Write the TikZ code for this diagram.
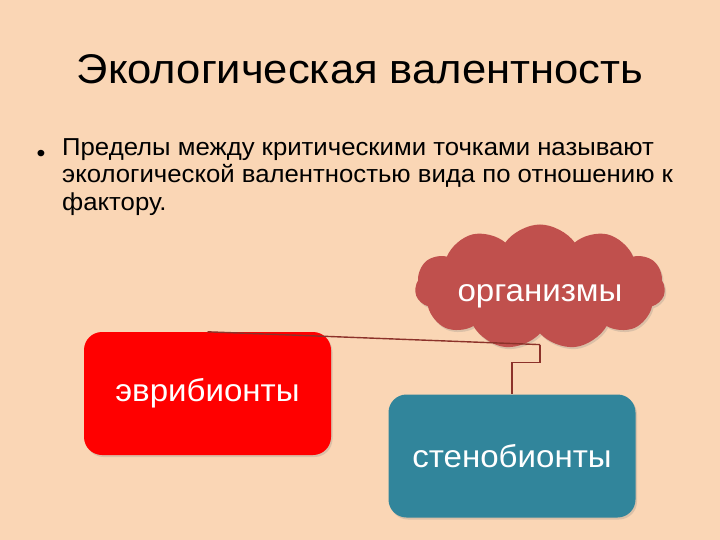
\documentclass[tikz,border=0pt]{standalone}
\usepackage{fontspec}
\setmainfont[FakeStretch=1.05]{Liberation Sans}
\usetikzlibrary{shapes.symbols,positioning,shadows}
\definecolor{slidebg}{RGB}{250,214,181}
\definecolor{cloudred}{RGB}{192,80,77}
\definecolor{boxteal}{RGB}{49,133,155}
\definecolor{linkred}{RGB}{140,50,42}

\begin{document}
\begin{tikzpicture}[
    x=1pt, y=-1pt,
    group/.style={rectangle, rounded corners=18pt, minimum width=247pt, minimum height=123pt, text=white, font=\fontsize{31.5}{36}\selectfont, drop shadow={opacity=0.25, shadow xshift=1.5pt, shadow yshift=-2pt}},
    puff/.style={cloud, cloud puffs=11, cloud puff arc=110, aspect=2, inner sep=0pt, minimum width=250pt, minimum height=125pt, fill=cloudred, text=white, font=\fontsize{31.5}{36}\selectfont, drop shadow={opacity=0.25, shadow xshift=1.5pt, shadow yshift=-2pt}},
    link/.style={draw=linkred, line width=1.4pt}
  ]
    \fill[slidebg] (0,0) rectangle (720,540);
    \useasboundingbox (0,0) rectangle (720,540);

    \node [font=\fontsize{41.5}{46}\selectfont] (title) at (360,69) {Экологическая валентность};
    \node [font=\fontsize{24}{28}\selectfont] (dot) at (41,156) {\textbullet};
    \node [anchor=north west, inner sep=0pt, align=left, font=\fontsize{24.5}{27.5}\selectfont] (body) at (62,138)
      {Пределы между критическими точками называют\\
       экологической валентностью вида по отношению к\\
       фактору.};

    \node [puff] (organisms) at (540,287) {\smash{\makebox[0pt]{\raisebox{-14pt}{организмы}}}};
    \node [group, fill=red] (eury) at (207.5,393.5) {эврибионты};
    \node [group, fill=boxteal] (steno) at (512,456) {стенобионты};

    \path [link] ([yshift=-11pt]organisms.south) -- (eury.north);
    \path [link] ([yshift=-11pt]organisms.south) -- ++(0,18) -| (steno.north);
\end{tikzpicture}
\end{document}
